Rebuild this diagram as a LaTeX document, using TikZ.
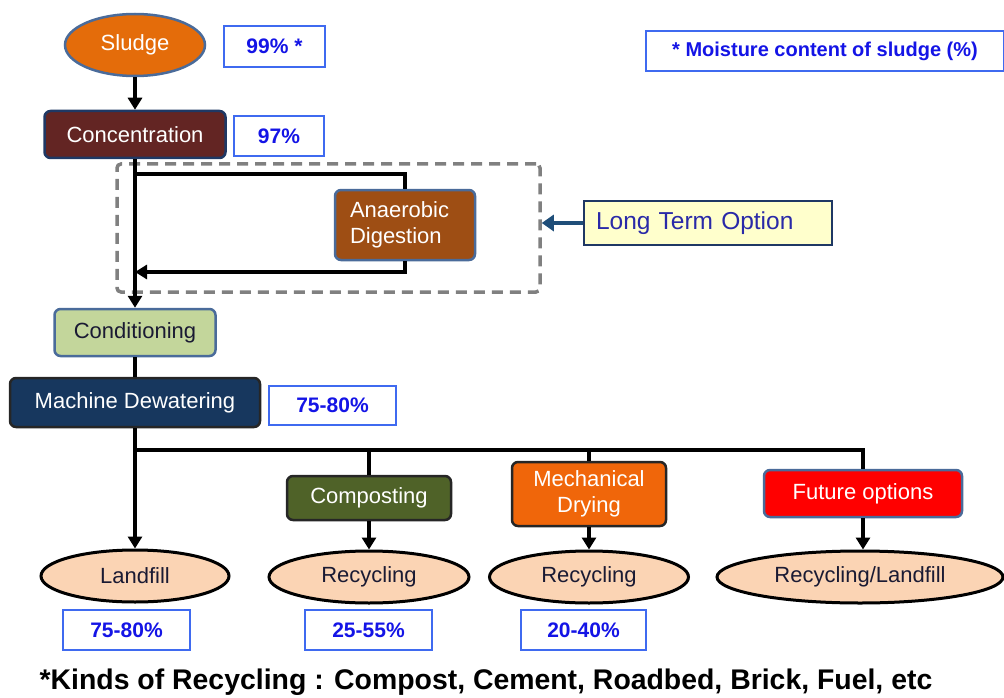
\documentclass[tikz,border=0pt]{standalone}
\usepackage{fontspec}
\setmainfont{Liberation Sans}
\usetikzlibrary{arrows.meta,shapes.geometric}
\definecolor{sludgeC}{HTML}{E46C0A}
\definecolor{blueB}{HTML}{4A6B9A}
\definecolor{concC}{HTML}{632523}
\definecolor{anaC}{HTML}{9E4E14}
\definecolor{condC}{HTML}{C3D69B}
\definecolor{machC}{HTML}{17375E}
\definecolor{compC}{HTML}{4F6228}
\definecolor{mechC}{HTML}{F0660A}
\definecolor{futC}{HTML}{FF0000}
\definecolor{ellC}{HTML}{FBD4B4}
\definecolor{pctB}{HTML}{3F6AF0}
\definecolor{pctT}{HTML}{1414E6}
\definecolor{ltoF}{HTML}{FFFFCC}
\definecolor{ltoB}{HTML}{1F3864}
\definecolor{ltoT}{HTML}{2A2AA8}
\definecolor{ltoA}{HTML}{1F4E79}
\definecolor{dashC}{HTML}{808080}
\definecolor{darkT}{HTML}{1A1A33}
\tikzset{
  procbox/.style={rectangle, rounded corners=6pt, draw=blueB, line width=2.5pt, text=white, inner sep=0pt, font=\fontsize{22}{26}\selectfont},
  pctbox/.style={rectangle, draw=pctB, line width=2pt, fill=white, text=pctT, inner sep=0pt, font=\fontsize{21}{24}\selectfont\bfseries},
  endell/.style={ellipse, draw=black, line width=3pt, fill=ellC, text=darkT, inner sep=0pt, font=\fontsize{22}{26}\selectfont},
  conn/.style={line width=4pt, draw=black},
  arr/.style={conn, -{Triangle[length=12pt,width=14pt]}}
}
\begin{document}
\begin{tikzpicture}[x=1pt,y=-1pt]
\useasboundingbox (0,0) rectangle (1004,698);
% dashed option frame
\node[draw=dashC, dashed, dash pattern=on 11pt off 7pt, line width=3.5pt, rounded corners=4pt, minimum width=423pt, minimum height=128pt, inner sep=0pt] (frame) at (328.5,228) {};
% top nodes
\node[ellipse, fill=sludgeC, draw=blueB, line width=2.5pt, text=white, minimum width=140pt, minimum height=62pt, inner sep=0pt, font=\fontsize{22}{26}\selectfont] (sludge) at (135,45) {Sludge};
\node[pctbox, minimum width=101pt, minimum height=41pt] (p99) at (274.5,46.5) {99\% *};
\node[procbox, fill=concC, draw=ltoB, minimum width=181pt, minimum height=47pt] (conc) at (135,134.5) {Concentration};
\node[pctbox, minimum width=90pt, minimum height=40pt] (p97) at (279,136) {97\%};
\node[pctbox, minimum width=358pt, minimum height=40pt, font=\fontsize{20}{24}\selectfont\bfseries] (moist) at (825,51) {* Moisture content of sludge (\%)};
\node[procbox, fill=anaC, minimum width=140pt, minimum height=70pt, text width=110pt, align=left] (ana) at (405,225) {Anaerobic\\Digestion};
\node[rectangle, fill=ltoF, draw=ltoB, line width=2pt, text=ltoT, minimum width=248pt, minimum height=44pt, inner sep=0pt, font=\fontsize{24.5}{28}\selectfont, text width=224pt, align=left] (lto) at (708,223) {Long Term Option};
\node[procbox, fill=condC, text=darkT, minimum width=161pt, minimum height=47pt] (cond) at (135,332.5) {Conditioning};
\node[procbox, fill=machC, draw=black!85, minimum width=250pt, minimum height=49pt] (mach) at (135,402.5) {Machine Dewatering};
\node[pctbox, minimum width=127pt, minimum height=39pt] (p7580a) at (332.5,405.5) {75-80\%};
% second row
\node[procbox, fill=compC, draw=black!85, minimum width=164pt, minimum height=44pt] (comp) at (369,498) {Composting};
\node[procbox, fill=mechC, draw=black!85, minimum width=154pt, minimum height=64pt, align=center] (mech) at (589,494) {Mechanical\\Drying};
\node[procbox, fill=futC, minimum width=198pt, minimum height=47pt] (fut) at (863,493.5) {Future options};
% end ellipses
\node[endell, minimum width=188pt, minimum height=52pt] (land) at (135,576) {Landfill};
\node[endell, minimum width=200pt, minimum height=52pt] (rec1) at (369,577) {Recycling};
\node[endell, minimum width=199pt, minimum height=52pt] (rec2) at (589,577) {Recycling};
\node[endell, minimum width=286pt, minimum height=52pt] (recl) at (860,577) {Recycling/Landfill};
% bottom percent boxes
\node[pctbox, minimum width=127pt, minimum height=40pt] (p7580b) at (126.5,630) {75-80\%};
\node[pctbox, minimum width=127pt, minimum height=40pt] (p2555) at (368.5,630) {25-55\%};
\node[pctbox, minimum width=125pt, minimum height=40pt] (p2040) at (583.5,630) {20-40\%};
\node[font=\fontsize{28.4}{32}\selectfont\bfseries, inner sep=0pt] (kinds) at (486,682) {*Kinds of Recycling : Compost, Cement, Roadbed, Brick, Fuel, etc};
% coordinates
\coordinate (j1) at (135,174);
\coordinate (j2) at (135,272);
\coordinate (j3) at (135,450);
% connectors
\draw[arr] (sludge.south) -- (conc.north);
\draw[arr] (conc.south) -- (cond.north);
\draw[conn] (j1) -| (ana.north);
\draw[arr] (ana.south) |- (j2);
\draw[line width=4pt, draw=ltoA, -{Triangle[length=12pt,width=16pt]}] (lto.west) -- (lto.west -| frame.east);
\draw[conn] (cond.south) -- (mach.north);
\draw[conn] (mach.south) -- (j3);
\draw[arr] (j3) -- (land.north);
\draw[conn] (j3) -| (fut.north);
\draw[conn] (comp.north |- j3) -- (comp.north);
\draw[conn] (mech.north |- j3) -- (mech.north);
\draw[arr] (comp.south) -- (rec1.north);
\draw[arr] (mech.south) -- (rec2.north);
\draw[arr] (fut.south) -- (recl.north -| fut.south);
\end{tikzpicture}
\end{document}
